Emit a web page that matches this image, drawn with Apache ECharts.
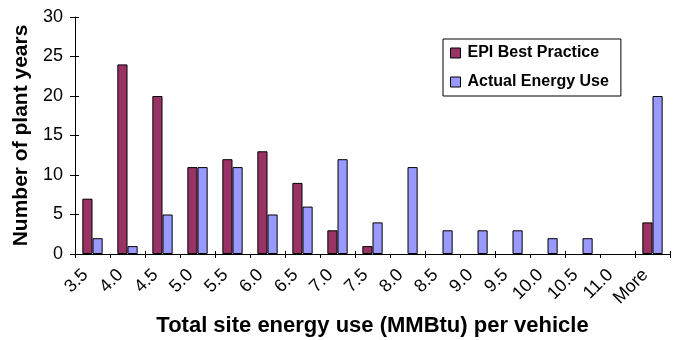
<!DOCTYPE html>
<html><head><meta charset="utf-8">
<script src="https://cdn.jsdelivr.net/npm/echarts@6/dist/echarts.min.js"></script>
<style>html,body{margin:0;padding:0;background:#fff}#c{width:676px;height:340px}</style>
</head><body><div id="c"></div>
<script>
const categories = ['3.5','4.0','4.5','5.0','5.5','6.0','6.5','7.0','7.5','8.0','8.5','9.0','9.5','10.0','10.5','11.0','More'];
const epiBestPractice = [7,24,20,11,12,13,9,3,1,0,0,0,0,0,0,0,4];
const actualEnergyUse = [2,1,5,11,11,5,6,12,4,11,3,3,3,2,2,0,20];
const yTicks = {min:0, max:30, interval:5};

const font = 'Liberation Sans, Arial, sans-serif';
const noZero = arr => arr.map(v => v === 0 ? '-' : v);
const chart = echarts.init(document.getElementById('c'), null, {renderer:'canvas'});
chart.setOption({
  animation:false,
  backgroundColor:'#fff',
  grid:{left:75, right:6, top:17, bottom:86, outerBoundsMode:'none', containLabel:false},
  legend:{
    orient:'vertical', left:443, top:39,
    padding:[6,12,6,7], itemGap:13,
    borderColor:'#000', borderWidth:1,
    itemWidth:10, itemHeight:10, icon:'rect',
    itemStyle:{borderColor:'#000', borderWidth:1},
    textStyle:{fontFamily:font, fontWeight:'bold', fontSize:16, color:'#000', padding:[0,0,0,2]},
    data:['EPI Best Practice','Actual Energy Use']
  },
  xAxis:[{
    type:'category', data:categories,
    axisLine:{lineStyle:{color:'#000', width:1}},
    axisTick:{show:true, length:4, lineStyle:{color:'#000'}},
    axisLabel:{interval:0, rotate:45, fontFamily:font, fontSize:18, color:'#000', margin:11, padding:[0,10,0,0]},
    name:'Total site energy use (MMBtu) per vehicle',
    nameLocation:'middle', nameGap:56,
    nameTextStyle:{fontFamily:font, fontWeight:'bold', fontSize:22, color:'#000'}
  },{
    type:'category', data:categories, position:'bottom',
    axisLine:{show:false}, axisLabel:{show:false},
    axisTick:{show:true, inside:true, length:3, lineStyle:{color:'#000'}}
  }],
  yAxis:[{
    type:'value', min:yTicks.min, max:yTicks.max, interval:yTicks.interval,
    splitLine:{show:false},
    axisLine:{show:true, lineStyle:{color:'#000', width:1}},
    axisTick:{show:true, length:5, lineStyle:{color:'#000'}},
    axisLabel:{fontFamily:font, fontSize:18, color:'#000', margin:12},
    name:'Number of plant years',
    nameLocation:'middle', nameGap:43,
    nameTextStyle:{fontFamily:font, fontWeight:'bold', fontSize:21, color:'#000'}
  },{
    type:'value', min:yTicks.min, max:yTicks.max, interval:yTicks.interval, position:'left',
    splitLine:{show:false}, axisLine:{show:false}, axisLabel:{show:false},
    axisTick:{show:true, inside:true, length:4, lineStyle:{color:'#000'}}
  }],
  series:[
    {name:'EPI Best Practice', type:'bar', data:noZero(epiBestPractice), barGap:'0%', barCategoryGap:'42%',
     itemStyle:{color:'#993366', borderColor:'#000', borderWidth:1}},
    {name:'Actual Energy Use', type:'bar', data:noZero(actualEnergyUse), barGap:'0%', barCategoryGap:'42%',
     itemStyle:{color:'#9999FF', borderColor:'#000', borderWidth:1}}
  ]
});
</script></body></html>
